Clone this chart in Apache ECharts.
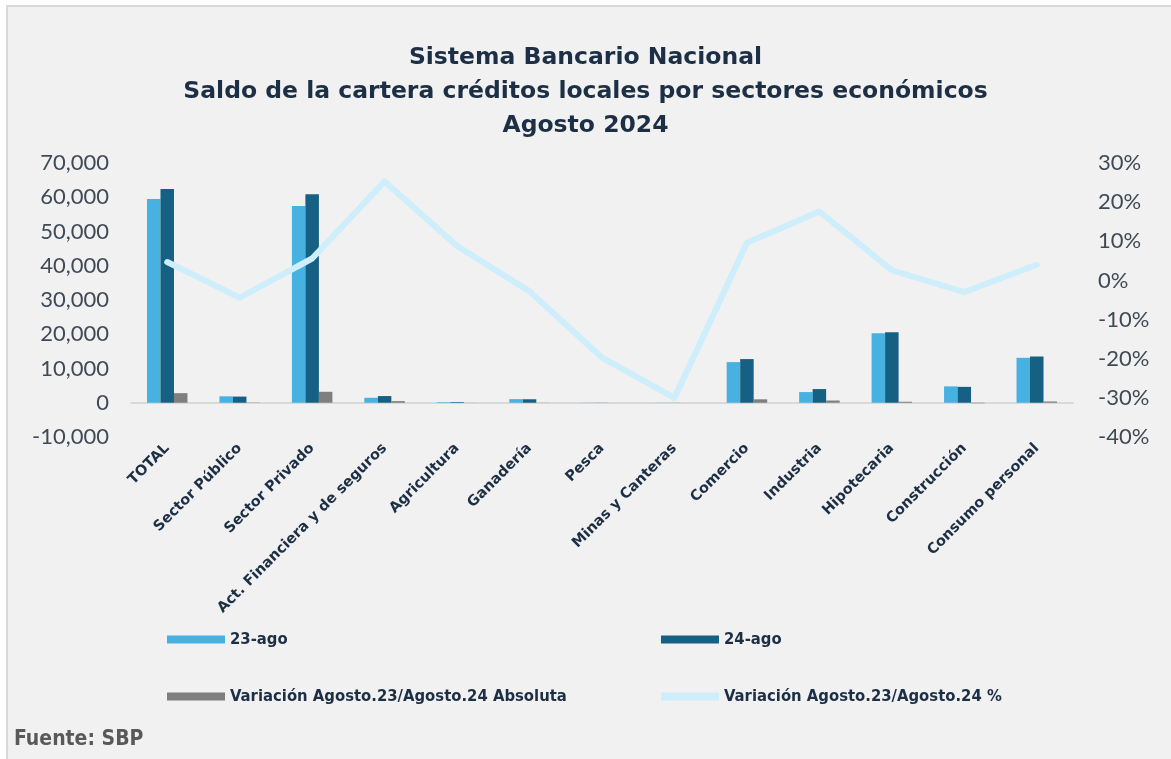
<!DOCTYPE html>
<html>
<head>
<meta charset="utf-8">
<script src="https://cdn.jsdelivr.net/npm/echarts@6/dist/echarts.min.js"></script>
<style>
  html, body { margin: 0; padding: 0; background: #ffffff; }
  #chart { width: 1171px; height: 759px; }
</style>
</head>
<body>
<div id="chart"></div>
<script>
var sectores = ['TOTAL', 'Sector Público', 'Sector Privado', 'Act. Financiera y de seguros',
  'Agricultura', 'Ganadería', 'Pesca', 'Minas y Canteras', 'Comercio', 'Industria',
  'Hipotecaria', 'Construcción', 'Consumo personal'];
var ago23 = [59500, 1880, 57450, 1450, 180, 1050, 40, 30, 11870, 3120, 20300, 4780, 13120];
var ago24 = [62400, 1800, 60850, 1950, 200, 1020, 30, 20, 12750, 4000, 20600, 4640, 13500];
var variacionAbs = [2800, -80, 3200, 480, 15, -30, -5, -5, 1000, 650, 300, -140, 380];
var variacionPct = [0.047, -0.044, 0.056, 0.253, 0.088, -0.028, -0.197, -0.300, 0.096, 0.176, 0.026, -0.030, 0.040];
var ticksIzq = [-10000, 0, 10000, 20000, 30000, 40000, 50000, 60000, 70000];
var ticksDer = [-0.4, -0.3, -0.2, -0.1, 0, 0.1, 0.2, 0.3];

var navy = '#1C2F45';
var colores = ['#47B1E1', '#166083', '#7F7F7F', '#CDEEFA'];
var nombres = ['23-ago', '24-ago', 'Variación Agosto.23/Agosto.24 Absoluta', 'Variación Agosto.23/Agosto.24 %'];

function leyenda(i, left, top){
  return {
    left: left,
    top: top,
    padding: 0,
    data: [{name: nombres[i], icon: 'rect'}],
    itemWidth: 58,
    itemHeight: 8,
    itemGap: 0,
    textStyle: {color: navy, fontFamily: 'DejaVu Sans Condensed', fontWeight: 'bold', fontSize: 16.5}
  };
}

var chart = echarts.init(document.getElementById('chart'));
chart.setOption({
  backgroundColor: '#F1F1F1',
  animation: false,
  title: [{
    text: 'Sistema Bancario Nacional\nSaldo de la cartera créditos locales por sectores económicos\nAgosto 2024',
    left: 'center',
    top: 36,
    textStyle: {color: navy, fontFamily: 'DejaVu Sans', fontWeight: 'bold', fontSize: 23.5, lineHeight: 34}
  }, {
    text: 'Fuente: SBP',
    left: 9,
    top: 724,
    textStyle: {color: '#595959', fontFamily: 'DejaVu Sans Condensed', fontWeight: 'bold', fontSize: 21}
  }],
  graphic: [
    {type: 'rect', shape: {x: 0, y: 0, width: 1171, height: 5}, style: {fill: '#ffffff'}},
    {type: 'rect', shape: {x: 0, y: 0, width: 6, height: 759}, style: {fill: '#ffffff'}},
    {type: 'rect', shape: {x: 6, y: 5, width: 1165, height: 2}, style: {fill: '#D9D9D9'}},
    {type: 'rect', shape: {x: 6, y: 5, width: 2, height: 754}, style: {fill: '#D9D9D9'}}
  ],
  legend: [
    leyenda(0, 167, 631),
    leyenda(1, 661, 631),
    leyenda(2, 167, 688),
    leyenda(3, 661, 688)
  ],
  grid: {left: 131, right: 98, top: 163, bottom: 322},
  xAxis: {
    type: 'category',
    data: sectores,
    axisLine: {onZero: true, lineStyle: {color: '#D9D9D9', width: 2}},
    axisTick: {show: false},
    axisLabel: {
      interval: 0,
      rotate: 45,
      margin: 9,
      color: navy,
      fontFamily: 'DejaVu Sans',
      fontWeight: 'bold',
      fontSize: 14.5
    }
  },
  yAxis: [{
    type: 'value',
    min: ticksIzq[0],
    max: ticksIzq[ticksIzq.length - 1],
    interval: 10000,
    splitLine: {show: false},
    axisLine: {show: false},
    axisTick: {show: false},
    axisLabel: {
      margin: 22,
      color: '#404A57',
      fontFamily: 'Lato',
      fontSize: 22,
      formatter: function(v){ return v.toLocaleString('en-US'); }
    }
  }, {
    type: 'value',
    min: ticksDer[0],
    max: ticksDer[ticksDer.length - 1],
    interval: 0.1,
    splitLine: {show: false},
    axisLine: {show: false},
    axisTick: {show: false},
    axisLabel: {
      margin: 25,
      color: '#404A57',
      fontFamily: 'Lato',
      fontSize: 22,
      formatter: function(v){ return Math.round(v * 100) + '%'; }
    }
  }],
  series: [{
    name: nombres[0],
    type: 'bar',
    data: ago23,
    barWidth: 13.5,
    barGap: '0%',
    itemStyle: {color: colores[0]}
  }, {
    name: nombres[1],
    type: 'bar',
    data: ago24,
    barWidth: 13.5,
    barGap: '0%',
    itemStyle: {color: colores[1]}
  }, {
    name: nombres[2],
    type: 'bar',
    data: variacionAbs,
    barWidth: 13.5,
    barGap: '0%',
    itemStyle: {color: colores[2]}
  }, {
    name: nombres[3],
    type: 'line',
    yAxisIndex: 1,
    data: variacionPct,
    symbol: 'none',
    z: 5,
    itemStyle: {color: colores[3]},
    lineStyle: {color: colores[3], width: 6, join: 'round', cap: 'round'}
  }]
});
</script>
</body>
</html>
